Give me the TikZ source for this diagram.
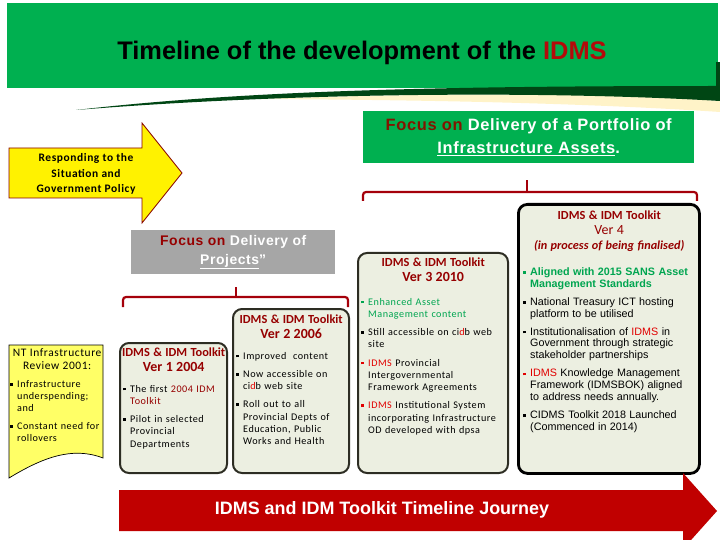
\documentclass[tikz,border=0pt]{standalone}
\usepackage{fontspec}
\setmainfont{Carlito}
\newfontfamily\boxfont[LetterSpace=5]{Carlito}
\newfontfamily\headfont{Carlito}
\newfontfamily\arialfont{Liberation Sans}
\newfontfamily\widearial[LetterSpace=4]{Liberation Sans}
\usetikzlibrary{positioning, calc}
\definecolor{hdrgreen}{RGB}{0,176,80}
\definecolor{hdrdark}{RGB}{0,70,20}
\definecolor{glowyellow}{RGB}{255,243,200}
\definecolor{titlered}{RGB}{180,10,10}
\definecolor{darkred}{RGB}{150,0,0}
\definecolor{focusred}{RGB}{130,20,0}
\definecolor{brightred}{RGB}{225,0,0}
\definecolor{bracketred}{RGB}{165,0,10}
\definecolor{arrowred}{RGB}{192,0,0}
\definecolor{boxfill}{RGB}{236,239,225}
\definecolor{boxline}{RGB}{45,45,35}
\definecolor{txtgreen}{RGB}{0,165,80}
\definecolor{docyellow}{RGB}{255,255,102}
\definecolor{greyfocus}{RGB}{166,166,166}

% line break inside a bullet
\newcommand{\nl}{\hfil\break}
% bullet with hanging indent
\newcommand{\bul}[2][black]{\par\vspace{6bp}\hangindent=7bp\hangafter=1\noindent
  \makebox[7bp][l]{\textcolor{#1}{\rule[1.6bp]{2.8bp}{2.8bp}}}{#2}}
% version box heading
\newcommand{\vertitle}[2]{{\headfont\bfseries\color{darkred}\noindent
  \fontsize{12.4}{15}\selectfont\makebox[\linewidth][c]{IDMS \& IDM Toolkit}\par
  \noindent\fontsize{14}{15}\selectfont\makebox[\linewidth][c]{#1}\par #2}}

\tikzset{
  verbox/.style={draw=boxline, line width=2bp, rounded corners=9bp, fill=boxfill,
    inner sep=0pt, anchor=north west},
  vertext/.style={anchor=north west, inner sep=0pt, align=left,
    font=\boxfont\fontsize{10.2}{12.3}\selectfont},
  bracketline/.style={draw=bracketred, line width=2.2bp, rounded corners=3bp},
}

\begin{document}
\begin{tikzpicture}[x=1bp, y=-1bp]
    \useasboundingbox (0,0) rectangle (720,540);

    % header band
    \fill[hdrgreen] (7,3) rectangle (718,88);
    \fill[hdrdark] (716,62) rectangle (720,88);
    \fill[glowyellow] (260,99) .. controls (480,91) and (640,95) .. (720,101)
        -- (720,112) .. controls (600,104) and (450,100) .. (260,99) -- cycle;
    \fill[hdrdark] (76,110) .. controls (250,90) and (450,86) .. (720,86)
        -- (720,101) .. controls (550,91) and (300,92) .. (76,110) -- cycle;
    \node[font=\arialfont\bfseries\fontsize{25.5}{28}\selectfont] (title) at (362,53)
        {Timeline of the development of the \textcolor{titlered}{IDMS}};

    % yellow arrow
    \draw[fill=yellow, draw=arrowred!70!black, line width=0.8bp]
        (9,148) -- (142,148) -- (142,123) -- (182,173) -- (142,223) -- (142,198) -- (9,198) -- cycle;
    \node[align=center, font=\boxfont\bfseries\fontsize{11.5}{15.5}\selectfont] (respond) at (86,174)
        {Responding to the\\ Situation and\\ Government Policy};

    % focus boxes
    \node[fill=greyfocus, minimum width=204bp, minimum height=44bp, anchor=north west,
          align=center, font=\widearial\bfseries\fontsize{14}{19}\selectfont] (projfocus) at (131,230)
        {\textcolor{darkred}{Focus on} \textcolor{white}{Delivery of}\\
         \textcolor{white}{\underline{Projects}”}};
    \node[fill=hdrgreen, minimum width=331bp, minimum height=52bp, anchor=north west,
          align=center, font=\widearial\bfseries\fontsize{16.5}{23}\selectfont] (assetfocus) at (363,111)
        {\textcolor{focusred}{Focus on} \textcolor{white}{Delivery of a Portfolio of}\\
         \textcolor{white}{\underline{Infrastructure Assets}.}};

    % brackets
    \coordinate (lbl) at (123,307);
    \coordinate (lbm) at (236,297);
    \coordinate (lbr) at (348,307);
    \coordinate (lbt) at (236,287);
    \coordinate (rbl) at (363,201);
    \coordinate (rbm) at (527,192);
    \coordinate (rbr) at (697,201);
    \coordinate (rbt) at (527,180);
    \draw[bracketline] (lbl) |- (lbm) -| (lbr);
    \draw[bracketline] (lbm) -- (lbt);
    \draw[bracketline] (rbl) |- (rbm) -| (rbr);
    \draw[bracketline] (rbm) -- (rbt);

    % NT review document
    \draw[fill=docyellow, draw=black, line width=0.7bp]
        (9,345) -- (103,345) -- (103,458) .. controls (72,446) and (42,458) .. (9,478) -- cycle;
    \node[vertext, text width=94bp] (review) at (10,348)
        {\noindent\fontsize{11.5}{13.5}\selectfont\makebox[\linewidth][c]{NT Infrastructure}\par
         \noindent\makebox[\linewidth][c]{Review 2001:}\par
         \fontsize{10.2}{12}\selectfont
         \bul{Infrastructure\nl underspending;\nl and}
         \bul{Constant need for\nl rollovers}\par};

    % version boxes
    \node[verbox, minimum width=107bp, minimum height=130bp] (v1) at (119,342) {};
    \node[verbox, minimum width=116bp, minimum height=164bp] (v2) at (232,308) {};
    \node[verbox, minimum width=150bp, minimum height=220bp] (v3) at (357,252) {};
    \node[verbox, draw=black, line width=2.8bp, minimum width=181bp, minimum height=269bp] (v4) at (517,203) {};

    \node[vertext, text width=101bp] (v1txt) at ([shift={(4bp,-6bp)}]v1.north west)
        {\vertitle{Ver 1 2004}{}
         \vspace{2bp}
         \bul{The first \textcolor{darkred}{2004 IDM}\nl \textcolor{darkred}{Toolkit}}
         \bul{Pilot in selected\nl Provincial\nl Departments}\par};

    \node[vertext, text width=110bp] (v2txt) at ([shift={(4bp,-7bp)}]v2.north west)
        {\vertitle{Ver 2 2006}{}
         \vspace{2bp}
         \bul{Improved\ \ content}
         \bul{Now accessible on\nl ci\textcolor{brightred}{d}b web site}
         \bul{Roll out to all\nl Provincial Depts of\nl Education, Public\nl Works and Health}\par};

    \node[vertext, text width=144bp] (v3txt) at ([shift={(4bp,-6bp)}]v3.north west)
        {\vertitle{Ver 3 2010}{}
         \vspace{5bp}
         \bul[txtgreen]{\color{txtgreen}Enhanced Asset\nl Management content}
         \bul{Still accessible on ci\textcolor{brightred}{d}b web\nl site}
         \bul[brightred]{\textcolor{brightred}{IDMS} Provincial\nl Intergovernmental\nl Framework Agreements}
         \bul[brightred]{\textcolor{brightred}{IDMS} Institutional System\nl incorporating Infrastructure\nl OD developed with dpsa}\par};

    \node[vertext, text width=172bp] (v4txt) at ([shift={(6bp,-8bp)}]v4.north west)
        {\vertitle{\mdseries Ver 4}{\noindent\itshape\fontsize{12.3}{14.5}\selectfont
           \makebox[\linewidth][c]{(in process of being finalised)}\par}
         \vspace{8bp}
         \arialfont\fontsize{10.8}{12}\selectfont
         \bul[txtgreen]{\bfseries\color{txtgreen}Aligned with 2015 SANS Asset\nl Management Standards}
         \bul{National Treasury ICT hosting\nl platform to be utilised}
         \bul{Institutionalisation of \textcolor{brightred}{IDMS} in\nl Government through strategic\nl stakeholder partnerships}
         \bul[brightred]{\textcolor{brightred}{IDMS} Knowledge Management\nl Framework (IDMSBOK) aligned\nl to address needs annually.}
         \bul{CIDMS Toolkit 2018 Launched\nl (Commenced in 2014)}\par};

    % timeline arrow
    \fill[arrowred] (119,490) -- (683,490) -- (683,473) -- (717,511) -- (683,549)
        -- (683,531) -- (119,531) -- cycle;
    \node[text=white, font=\arialfont\bfseries\fontsize{18}{21}\selectfont] (journey) at (382,510)
        {IDMS and IDM Toolkit Timeline Journey};
\end{tikzpicture}
\end{document}
